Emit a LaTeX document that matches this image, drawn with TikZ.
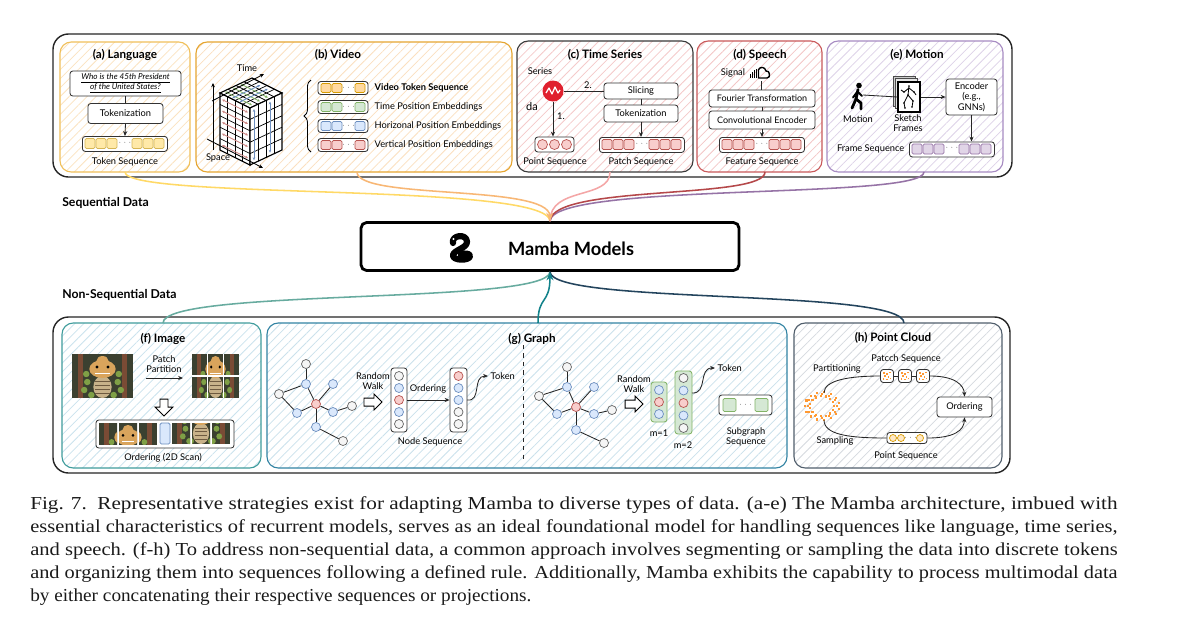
\documentclass[tikz,border=0pt]{standalone}
\usepackage{fontspec}
\usepackage{graphicx}
\setmainfont{Lato}
\newfontfamily\capfont{Liberation Serif}
\usetikzlibrary{arrows.meta,patterns.meta,decorations.pathreplacing}

\newcommand\dttl{\fontsize{8.3}{9.5}\selectfont\bfseries}
\newcommand\dlbl{\fontsize{6.6}{7.6}\selectfont}
\newcommand\dsml{\fontsize{5.8}{6.8}\selectfont}

\definecolor{cA}{HTML}{F0C05A}\definecolor{hA}{HTML}{FBE3C0}
\definecolor{cB}{HTML}{E5A530}\definecolor{hB}{HTML}{FBE0BF}
\definecolor{cC}{HTML}{3A3A3A}\definecolor{hC}{HTML}{F5CACA}
\definecolor{cD}{HTML}{C9595A}\definecolor{hD}{HTML}{F3C6C6}
\definecolor{cE}{HTML}{A78BC2}\definecolor{hE}{HTML}{DDD2E8}
\definecolor{cF}{HTML}{3F9C9C}\definecolor{hF}{HTML}{CBE3EE}
\definecolor{cG}{HTML}{3283A3}\definecolor{hG}{HTML}{CBE1EC}
\definecolor{cH}{HTML}{505E6C}\definecolor{hH}{HTML}{D6DADF}
\definecolor{yelF}{HTML}{FFE9A8}\definecolor{yelD}{HTML}{D6B656}
\definecolor{orgF}{HTML}{FFD9A0}\definecolor{orgD}{HTML}{D79B00}
\definecolor{grnF}{HTML}{D5E8D4}\definecolor{grnD}{HTML}{82B366}
\definecolor{bluF}{HTML}{DAE8FC}\definecolor{bluD}{HTML}{6C8EBF}
\definecolor{redF}{HTML}{F8CECC}\definecolor{redD}{HTML}{B85450}
\definecolor{purF}{HTML}{E1D5E7}\definecolor{purD}{HTML}{9673A6}
\definecolor{ndgF}{HTML}{F5F5F5}\definecolor{ndgD}{HTML}{666666}
\definecolor{ndbF}{HTML}{DAE8FC}\definecolor{ndbD}{HTML}{6C8EBF}
\definecolor{ndrF}{HTML}{F8CECC}\definecolor{ndrD}{HTML}{B85450}
\definecolor{kA}{HTML}{FFD966}\definecolor{kB}{HTML}{F8B775}
\definecolor{kC}{HTML}{F4A6A6}\definecolor{kD}{HTML}{B5484A}
\definecolor{kE}{HTML}{9673A6}\definecolor{kF}{HTML}{67AB9F}
\definecolor{kG}{HTML}{12828A}\definecolor{kH}{HTML}{23445D}
\definecolor{picbg}{HTML}{3B4030}\definecolor{picbar}{HTML}{7A4B35}
\definecolor{picleaf}{HTML}{7FA046}\definecolor{picbody}{HTML}{C8B28A}
\definecolor{picstripe}{HTML}{6E5A40}\definecolor{pichead}{HTML}{D9A45C}
\definecolor{tsred}{HTML}{E0202E}\definecolor{cloudor}{HTML}{FF9933}
\definecolor{capgray}{HTML}{1A1A1A}

\tikzset{
 sz/.style 2 args={minimum width={(#1)*0.025cm}, minimum height={(#2)*0.025cm}, inner sep=0pt},
 panel/.style={line width=0.8pt, rounded corners=8pt},
 outer/.style={draw=black!85, line width=1pt, rounded corners=11pt},
 hatch/.style={pattern={Lines[angle=45,distance=4.5pt,line width=0.55pt]}, pattern color=#1},
 wbox/.style={draw=black!80, fill=white, rounded corners=2pt, line width=0.6pt, inner sep=0pt, font=\dlbl, align=center},
 seqbox/.style={draw=black!80, fill=white, rounded corners=2pt, line width=0.6pt, inner sep=0pt},
 ttl/.style={font=\dttl, inner sep=1pt},
 lbl/.style={font=\dlbl, inner sep=1pt, align=center},
 arr/.style={-{Stealth[length=3.5pt,width=3pt]}, line width=0.6pt, draw=black!85},
 ln/.style={line width=0.6pt, draw=black!85},
 gn/.style={circle, minimum size=0.225cm, inner sep=0pt, line width=0.5pt},
 gg/.style={gn, fill=ndgF, draw=ndgD},
 gb/.style={gn, fill=ndbF, draw=ndbD},
 gr/.style={gn, fill=ndrF, draw=ndrD},
 tk/.style={line width=0.5pt, rounded corners=1pt},
 curve/.style={line width=1.1pt},
 hollow/.style={draw=black, fill=white, line width=0.7pt, line join=miter},
 cubearr/.style={line width=0.6pt, {Stealth[length=2pt,width=1.8pt]}-{Stealth[length=2pt,width=1.8pt]}},
 captxt/.style={anchor=base west, inner sep=0pt, font=\capfont\fontsize{13}{15}\selectfont, text=capgray},
}

\newcommand\tokseq[5]{%
 \node[seqbox, sz={85}{15}, anchor=north west] (#1) at (#2,#3) {};
 \foreach \k in {0,1,2}{%
  \draw[tk, fill=#4, draw=#5] ({#2+3+\k*11},{#3+2.5}) rectangle ++(10,10);
  \draw[tk, fill=#4, draw=#5] ({#2+50+\k*11},{#3+2.5}) rectangle ++(10,10);}
 \node[font=\tiny, inner sep=0pt] (#1-dots) at ({#2+43},{#3+6.5}) {$\cdots$};
}
\newcommand\vseq[4]{%
 \node[seqbox, sz={50}{13}] (#1) at (343,#2) {};
 \draw[tk, fill=#3, draw=#4] (321,{#2-4.5}) rectangle ++(10,9);
 \draw[tk, fill=#3, draw=#4] (332,{#2-4.5}) rectangle ++(10,9);
 \draw[tk, fill=#3, draw=#4] (355,{#2-4.5}) rectangle ++(10,9);
 \node[font=\tiny, inner sep=0pt] (#1-dots) at (348.5,#2) {$\cdots$};
}
\newcommand\snakepic[4]{%
 \begin{scope}[shift={({#1},{#2})}, xscale=#3/60, yscale=#4/44]
  \fill[picbg] (0,0) rectangle (60,44);
  \fill[picbar] (6,0) rectangle (11,44);
  \fill[picbar] (49,0) rectangle (54,44);
  \foreach \p in {(15,28),(12,36),(45,28),(48,36),(19,41),(41,41),(14,20),(46,20)} \fill[picleaf] \p circle (3.2);
  \fill[picbody] (30,33) ellipse (9 and 11);
  \foreach \s in {27,31,35,39} \draw[picstripe, line width=0.4pt] (23,\s) -- (37,\s);
  \fill[pichead] (30,15) ellipse (13 and 9);
  \fill[pichead] (30,7) ellipse (6 and 5);
  \fill[black] (24.5,13) circle (1.6); \fill[black] (35.5,13) circle (1.6);
  \fill[white] (23,18.5) rectangle (37,20);
 \end{scope}}
\newcommand\ptile[4]{%
 \begin{scope}
  \clip (#1,#2) rectangle ++(18,21);
  \snakepic{#1-#3*18}{#2-#4*21}{54}{42}
 \end{scope}}

\begin{document}
\begin{tikzpicture}[x=0.025cm,y=-0.025cm]
\useasboundingbox (0,0) rectangle (1177,640);
\fill[white] (0,0) rectangle (1177,640);

% ---------- outer frames ----------
\draw[outer] (53,34) rectangle (1012,177);
\draw[outer] (53,317) rectangle (1010,473);

% ---------- panels ----------
\draw[panel, draw=cA, hatch=hA] (60,42) rectangle (190,172);
\draw[panel, draw=cB, hatch=hB] (196,42) rectangle (512,172);
\draw[panel, draw=cC, hatch=hC] (517,41) rectangle (693,172);
\draw[panel, draw=cD, hatch=hD] (697,41) rectangle (822,172);
\draw[panel, draw=cE, hatch=hE] (827,41) rectangle (1003,172);
\draw[panel, draw=cF, hatch=hF] (62,323) rectangle (261,468);
\draw[panel, draw=cG, hatch=hG] (267,323) rectangle (787,468);
\draw[panel, draw=cH, hatch=hH] (794,323) rectangle (1002,468);

\coordinate (pa) at (125,172); \coordinate (pb) at (357,172);
\coordinate (pc) at (610,172); \coordinate (pd) at (765,172);
\coordinate (pe) at (924,172);
\coordinate (pf) at (163,323); \coordinate (pg) at (538,323);
\coordinate (ph) at (904,323);

% ---------- (a) Language ----------
\node[ttl] (ta) at (125,55) {(a) Language};
\node[wbox, sz={111}{25}, font=\dsml\itshape] (q) at (125.5,83.5) {\underline{Who is the 45th President}\\\underline{of the United States?}};
\node[wbox, sz={75}{20}] (tokA) at (125.5,113.5) {Tokenization};
\draw[ln] (q.south) -- (tokA.north);
\tokseq{aseq}{82}{136}{yelF}{yelD}
\draw[arr] (tokA.south) -- (aseq.north);
\node[lbl] (la) at (125,162) {Token Sequence};

% ---------- (b) Video ----------
\node[ttl] (tb) at (338,55) {(b) Video};
\filldraw[fill=white, draw=black, line width=0.8pt] (220,93) -- (250,108) -- (282,93) -- (252,78) -- cycle;
\filldraw[fill=white, draw=black, line width=0.8pt] (220,93) -- (250,108) -- (250,165) -- (220,150) -- cycle;
\filldraw[fill=white, draw=black, line width=0.8pt] (250,108) -- (282,93) -- (282,150) -- (250,165) -- cycle;
\begin{scope}[line width=0.5pt]
 \foreach \k in {1,2,3} \draw ({220+7.5*\k},{93+3.75*\k}) -- ++(0,57);
 \foreach \j in {1,...,4} \draw (220,{93+11.4*\j}) -- ++(30,15);
 \foreach \k in {1,2,3} \draw ({250+8*\k},{108-3.75*\k}) -- ++(0,57);
 \foreach \j in {1,...,4} \draw (250,{108+11.4*\j}) -- ++(32,-15);
 \foreach \k in {1,2,3} \draw ({220+7.5*\k},{93+3.75*\k}) -- ++(32,-15);
 \foreach \k in {1,2,3} \draw ({220+8*\k},{93-3.75*\k}) -- ++(30,15);
\end{scope}
\foreach \j in {0,...,4} \draw[cubearr, draw=redD!70, fill=redD!70] (222,{93+11.4*\j+6.5}) -- ++(26,13);
\foreach \k in {0.5,2.5} \draw[cubearr, draw=bluD, fill=bluD] ({250+8*\k},{108-3.75*\k+3}) -- ++(0,51);
\foreach \k in {0.5,1.5,2.5} \draw[cubearr, draw=grnD, fill=grnD] ({221+8*\k},{93-3.75*\k+0.5}) -- ++(27,13.5);
\foreach \k in {1.5,2.5} \draw[cubearr, draw=bluD, fill=bluD] ({221+7.5*\k},{93+3.75*\k-0.5}) -- ++(28,-13);
\draw[-{Stealth[length=3pt,width=2.6pt]}, line width=0.6pt] (213,150) -- (213,83);
\draw[-{Stealth[length=3pt,width=2.6pt]}, line width=0.6pt] (212,101) -- (264,74);
\draw[-{Stealth[length=3pt,width=2.6pt]}, line width=0.6pt] (207,139) -- (263,168);
\node[lbl] (ltime) at (247,68) {Time};
\node[lbl] (lspace) at (218,158) {Space};
\draw[decorate, decoration={brace, amplitude=5pt}, line width=0.6pt] (311,152) -- (311,80);
\vseq{v1}{88}{orgF}{orgD}
\vseq{v2}{107}{grnF}{grnD}
\vseq{v3}{126}{bluF}{bluD}
\vseq{v4}{145}{redF}{redD}
\node[lbl, anchor=west, font=\dlbl\bfseries] (lv1) at (373,88) {Video Token Sequence};
\node[lbl, anchor=west] (lv2) at (373,107) {Time Position Embeddings};
\node[lbl, anchor=west] (lv3) at (373,126) {Horizonal Position Embeddings};
\node[lbl, anchor=west] (lv4) at (373,145) {Vertical Position Embeddings};

% ---------- (c) Time Series ----------
\node[ttl] (tc) at (605,55) {(c) Time Series};
\node[lbl] (lser) at (540,71) {Series};
\node[lbl, font=\fontsize{7.8}{8}\selectfont] (lda) at (532,106) {da};
\node[circle, fill=tsred, minimum size=0.525cm, inner sep=0pt] (ts) at (553,91) {};
\draw[white, line width=0.9pt, line join=round] (546,93) -- (549,88) -- (552,94) -- (555,87) -- (558,93) -- (560,90);
\node[wbox, sz={74}{16}] (slice) at (641,91) {Slicing};
\node[wbox, sz={74}{17}] (tokC) at (641,113.5) {Tokenization};
\draw[ln] (ts.east) -- (slice.west);
\node[lbl] (l2) at (588,85) {2.};
\draw[ln] (slice.south) -- (tokC.north);
\node[seqbox, sz={39}{15}] (pseqC) at (554.5,144.5) {};
\foreach \x in {542.5,554.5,566.5} \draw[fill=redF, draw=redD, line width=0.5pt] (\x,144.5) circle (5);
\draw[arr] (ts.south) -- (ts.south |- pseqC.north);
\node[lbl] (l1) at (561,116) {1.};
\tokseq{patC}{599}{137}{redF}{redD}
\draw[arr] (tokC.south) -- (tokC.south |- patC.north);
\node[lbl] (lpt) at (555,162) {Point Sequence};
\node[lbl] (lpa) at (641,162) {Patch Sequence};

% ---------- (d) Speech ----------
\node[ttl] (td) at (760,55) {(d) Speech};
\node[lbl] (lsig) at (733,73) {Signal};
\foreach \x/\h in {750.5/4,752.5/6,754.5/8,756.5/9} \draw[line width=1pt] (\x,78) -- ++(0,-\h);
\draw[line width=1pt, line join=round] (758.5,78) -- (758.5,69.5) .. controls (760,66.5) and (765,66.5) .. (766,71) .. controls (770,70) and (771,78) .. (767,78) -- cycle;
\coordinate (sigb) at (761,81);
\node[wbox, sz={106}{17}, font=\fontsize{6.4}{7.4}\selectfont] (four) at (762,98.5) {Fourier Transformation};
\node[wbox, sz={106}{18}, font=\fontsize{6.4}{7.4}\selectfont] (conv) at (762,120) {Convolutional Encoder};
\draw[ln] (sigb) -- (sigb |- four.north);
\draw[ln] (four.south) -- (conv.north);
\tokseq{featD}{719}{137}{redF}{redD}
\draw[arr] (conv.south) -- (conv.south |- featD.north);
\node[lbl] (lfe) at (762,162) {Feature Sequence};

% ---------- (e) Motion ----------
\node[ttl] (te) at (917,55) {(e) Motion};
\fill (859,85.5) circle (2.8);
\draw[line width=2pt, line cap=round, line join=round] (858,89.5) -- (856,99) -- (852,108);
\draw[line width=2pt, line cap=round, line join=round] (856,99) -- (861,103) -- (861,109);
\draw[line width=1.4pt, line cap=round] (857.5,91.5) -- (862,96);
\draw[line width=1.4pt, line cap=round] (857.5,91.5) -- (853,97.5);
\coordinate (pers) at (863,95);
\draw[fill=gray!40, draw=black!70, line width=0.5pt] (893,76) rectangle (915,106);
\draw[fill=gray!20, draw=black!70, line width=0.5pt] (895.5,78.5) rectangle (917.5,108.5);
\node[draw=black, fill=white, line width=0.8pt, sz={22}{30}] (frm) at (909,97) {};
\draw[ln] (pers) -- (frm.west);
\begin{scope}[line width=0.6pt]
 \draw (909,86) -- (908,95) -- (904,103) -- (905,108);
 \draw (908,95) -- (913,101) -- (912,107);
 \draw (909,88) -- (904,92) -- (901,90);
 \draw (909,88) -- (914,92) -- (916,95);
 \foreach \p in {(909,86),(908,95),(904,103),(913,101),(904,92),(914,92),(905,108),(912,107)} \fill \p circle (0.9);
\end{scope}
\node[wbox, sz={51}{36}] (enc) at (971.5,97) {Encoder\\(e.g.,\\GNNs)};
\draw[arr] (frm.east) -- (enc.west);
\node[lbl] (lmot) at (858,119) {Motion};
\node[lbl] (lsk) at (908,123) {Sketch\\Frames};
\tokseq{frS}{909}{141.5}{purF}{purD}
\draw[arr] (enc.south) -- (enc.south |- frS.north);
\node[lbl, anchor=east] (lfr) at (906,149) {Frame Sequence};

% ---------- labels & Mamba ----------
\node[font=\fontsize{8.7}{10}\selectfont\bfseries, anchor=west, inner sep=0pt] (lseq) at (62,203) {Sequential Data};
\node[font=\fontsize{8.7}{10}\selectfont\bfseries, anchor=west, inner sep=0pt] (lnseq) at (62,295) {Non-Sequential Data};
\node[draw=black, line width=2pt, rounded corners=4pt, fill=white, sz={378}{48}] (mamba) at (550,246.5) {};
\draw[line width=4.4pt, line cap=round, line join=round] (453,243) .. controls (451,235) and (467,233) .. (467,242) .. controls (467,248) and (454,250) .. (453,255) .. controls (452,261) and (470,261) .. (470,256) .. controls (470,253) and (464,253) .. (461,255);
\fill[white] (453.5,239) circle (1.1);
\node[font=\fontsize{13}{15}\selectfont\bfseries, inner sep=0pt] (mtext) at (571,249) {Mamba Models};

% ---------- curves ----------
\draw[curve, kA] (pa) .. controls (125,200) and (548,182) .. (mamba.north);
\draw[curve, kE] (pe) .. controls (924,200) and (552,182) .. (mamba.north);
\draw[curve, kD] (pd) .. controls (765,200) and (552,184) .. (mamba.north);
\draw[curve, kC] (pc) .. controls (610,200) and (550,186) .. (mamba.north);
\draw[curve, kB, -{Stealth[length=6pt,width=5pt]}] (pb) .. controls (357,200) and (549,184) .. (mamba.north);
\draw[curve, kF] (pf) .. controls (163,288) and (548,305) .. (mamba.south);
\draw[curve, kH] (ph) .. controls (904,288) and (552,305) .. (mamba.south);
\draw[curve, kG, -{Stealth[length=6pt,width=5pt]}] (pg) .. controls (538,295) and (550,305) .. (mamba.south);

% ---------- (f) Image ----------
\node[ttl] (tf) at (163,339) {(f) Image};
\snakepic{72}{354}{61}{44}
\snakepic{192}{354}{47}{44}
\draw[white, line width=1pt] (207.7,354) -- (207.7,398) (223.3,354) -- (223.3,398) (192,376) -- (239,376);
\node[lbl] (lpp) at (164,364) {Patch\\Partition};
\coordinate (ppa) at (146,378); \coordinate (ppb) at (183,378);
\draw[arr] (ppa) -- (ppb);
\draw[hollow] (160,399) -- (168,399) -- (168,407) -- (173,407) -- (164,416) -- (155,407) -- (160,407) -- cycle;
\node[seqbox, sz={138}{28}] (ordF) at (165,434) {};
\ptile{99}{423}{0}{0}
\ptile{119}{423}{1}{0}
\ptile{139}{423}{2}{0}
\draw[fill=bluF, draw=bluD, line width=0.6pt, rounded corners=1pt] (160,423) rectangle (170,444);
\ptile{172}{423}{0}{1}
\ptile{192}{423}{1}{1}
\ptile{212}{423}{2}{1}
\node[lbl] (lord) at (163,458) {Ordering (2D Scan)};

% ---------- (g) Graph ----------
\node[ttl] (tg) at (532,339) {(g) Graph};
\node[gg] (g1a) at (306,364) {}; \node[gb] (g1b) at (306,384) {};
\node[gg] (g1c) at (279,394) {}; \node[gb] (g1d) at (333,384) {};
\node[gr] (g1e) at (316,404) {}; \node[gb] (g1f) at (297,413) {};
\node[gb] (g1g) at (333,412) {}; \node[gg] (g1h) at (352,406) {};
\node[gb] (g1i) at (316,427) {}; \node[gg] (g1j) at (343,441) {};
\foreach \u/\v in {a/b,b/c,b/e,c/f,f/e,e/d,e/g,g/h,e/i,i/j} \draw[ln] (g1\u) -- (g1\v);
\node[lbl] (lrw1) at (373,381) {Random\\Walk};
\draw[hollow] (364,398) -- (374,398) -- (374,394) -- (382,402) -- (374,410) -- (374,406) -- (364,406) -- cycle;
\node[seqbox, sz={16}{64}] (col1) at (399,400) {};
\foreach \yy/\st in {376/gg,388/gb,400/gr,412/gb,424/gg} \node[\st] at (399,\yy) {};
\node[seqbox, sz={17}{64}] (col2) at (458.5,400) {};
\foreach \yy/\st in {376/gr,388/gb,400/gb,412/gg,424/gg} \node[\st] at (458.5,\yy) {};
\draw[arr] (col1.east) -- (col2.west);
\node[lbl] (lordg) at (428,389) {Ordering};
\coordinate (tok1) at (488,376);
\draw[arr] (467,400) .. controls (482,402) and (472,376) .. (tok1);
\node[lbl, anchor=west] (ltok1) at (489,376) {Token};
\node[lbl] (lns) at (430,442) {Node Sequence};
\draw[ln, dashed, line width=0.5pt] (523,345) -- (523,462);

\node[gg] (g2a) at (567,367) {}; \node[gb] (g2b) at (567,387) {};
\node[gg] (g2c) at (539,396) {}; \node[gb] (g2d) at (594,387) {};
\node[gr] (g2e) at (576,407) {}; \node[gb] (g2f) at (557,414) {};
\node[gb] (g2g) at (594,414) {}; \node[gg] (g2h) at (612,410) {};
\node[gb] (g2i) at (576,430) {}; \node[gg] (g2j) at (604,443) {};
\foreach \u/\v in {a/b,b/c,b/e,c/f,f/e,e/d,e/g,g/h,e/i,i/j} \draw[ln] (g2\u) -- (g2\v);
\node[lbl] (lrw2) at (634,384) {Random\\Walk};
\draw[hollow] (625,400) -- (635,400) -- (635,396) -- (643,404) -- (635,412) -- (635,408) -- (625,408) -- cycle;
\node[fill=grnF, draw=grnD, line width=0.6pt, rounded corners=2pt, sz={16}{40}] (m1) at (659,402) {};
\foreach \yy/\st in {390/gb,402/gr,414/gb} \node[\st] at (659,\yy) {};
\node[fill=grnF, draw=grnD, line width=0.6pt, rounded corners=2pt, sz={17}{63}] (m2) at (683.5,402.5) {};
\foreach \yy/\st in {378/gg,390.5/gb,403/gr,415.5/gb,428/gg} \node[\st] at (683.5,\yy) {};
\node[lbl] (lm1) at (659,433) {m=1};
\node[lbl] (lm2) at (683,445) {m=2};
\coordinate (tok2) at (715,368);
\draw[arr] (692,393) .. controls (708,394) and (698,368) .. (tok2);
\node[lbl, anchor=west] (ltok2) at (716,368) {Token};
\node[seqbox, sz={53}{20}] (subg) at (745.5,405) {};
\draw[tk, fill=grnF, draw=grnD] (723,398.5) rectangle ++(13,13);
\draw[tk, fill=grnF, draw=grnD] (755,398.5) rectangle ++(13,13);
\node[font=\tiny, inner sep=0pt] (subg-dots) at (745.5,405) {$\cdots$};
\node[lbl] (lsub) at (746,437) {Subgraph\\Sequence};

% ---------- (h) Point Cloud ----------
\node[ttl] (th) at (893,338) {(h) Point Cloud};
\foreach \a in {0,24,...,336} \fill[cloudor] ({822+12*cos(\a)-1},{406+10*sin(\a)-1}) rectangle ++(2.2,2.2);
\foreach \a in {12,36,...,348} \fill[cloudor] ({822+17*cos(\a)-1},{406+14*sin(\a)-1}) rectangle ++(2.2,2.2);
\foreach \a in {0,30,...,330} \fill[cloudor] ({822+14.5*cos(\a)-1},{406+12*sin(\a)-1}) rectangle ++(2,2);
\node[wbox, sz={55}{20}, font=\dlbl] (ordH) at (964.5,407) {Ordering};
\node[seqbox, sz={13}{13}] (pc1) at (887,376) {};
\node[seqbox, sz={13}{13}] (pc2) at (905,376) {};
\node[seqbox, sz={13}{13}] (pc3) at (923,376) {};
\foreach \c in {887,905,923}{
 \foreach \dx/\dy in {-3/-3,0/-2,3/-3.5,-2/0,1.5/1,3.5/2.5,-3.5/3,0/3.5}
  \fill[cloudor] ({\c+\dx-0.8},{376+\dy-0.8}) rectangle ++(1.6,1.6);}
\coordinate (rtop) at (824,393); \coordinate (rbot) at (824,420);
\draw[ln] (rtop) .. controls (824,380) and (850,376) .. (pc1.west);
\draw[ln] (pc1.east) -- (pc2.west) (pc2.east) -- (pc3.west);
\draw[arr] (pc3.east) .. controls (955,376) and (964,385) .. (ordH.north);
\node[seqbox, sz={40}{11}] (pseqH) at (907,438) {};
\foreach \x in {893,901,920} \draw[fill=orgF!60, draw=orgD, line width=0.5pt] (\x,438) circle (3.5);
\node[font=\tiny, inner sep=0pt] (pseqH-dots) at (910.5,438) {$\cdots$};
\draw[ln] (rbot) .. controls (824,435) and (850,438) .. (pseqH.west);
\draw[arr] (pseqH.east) .. controls (955,438) and (964,430) .. (ordH.south);
\node[lbl] (lpcs) at (906,359) {Patcch Sequence};
\node[lbl] (lpart) at (837,369) {Partitioning};
\node[lbl] (lsamp) at (835,441) {Sampling};
\node[lbl] (lpseq) at (906,456) {Point Sequence};

% ---------- caption ----------
\node[captxt] (cap1) at (30,509) {\resizebox{27.175cm}{\height}{Fig. 7.\ \ Representative strategies exist for adapting Mamba to diverse types of data. (a-e) The Mamba architecture, imbued with}};
\node[captxt] (cap2) at (30,532) {\resizebox{27.175cm}{\height}{essential characteristics of recurrent models, serves as an ideal foundational model for handling sequences like language, time series,}};
\node[captxt] (cap3) at (30,555) {\resizebox{27.175cm}{\height}{and speech. (f-h) To address non-sequential data, a common approach involves segmenting or sampling the data into discrete tokens}};
\node[captxt] (cap4) at (30,578) {\resizebox{27.175cm}{\height}{and organizing them into sequences following a defined rule. Additionally, Mamba exhibits the capability to process multimodal data}};
\node[captxt] (cap5) at (30,601) {\resizebox{12.525cm}{\height}{by either concatenating their respective sequences or projections.}};
\end{tikzpicture}
\end{document}
